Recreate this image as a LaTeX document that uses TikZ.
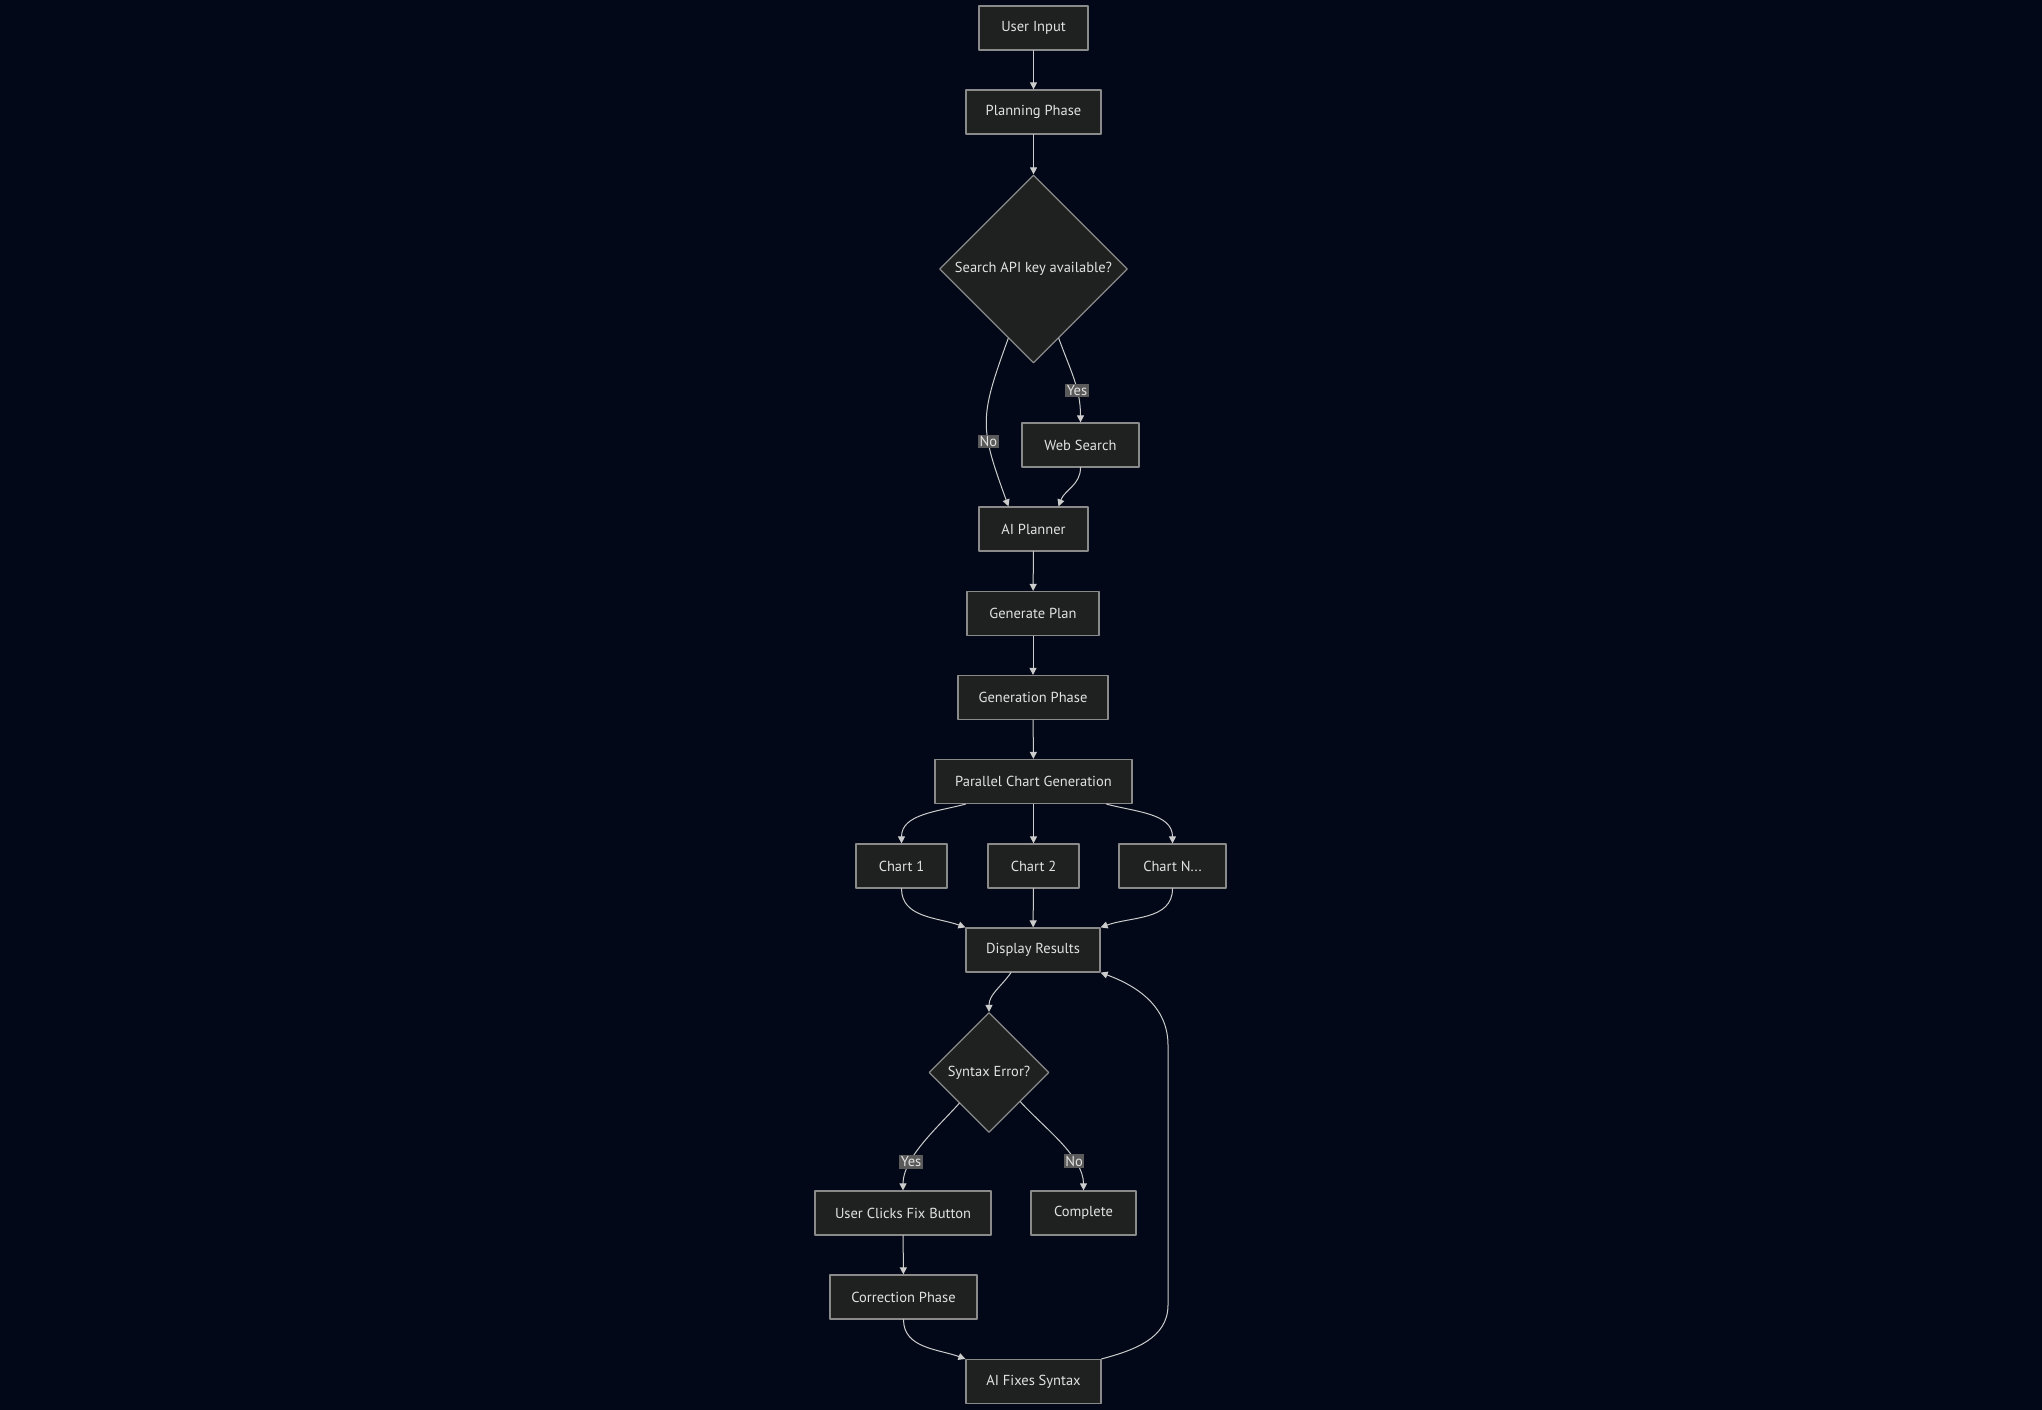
\documentclass[tikz,border=0pt]{standalone}
\usepackage{fontspec}
\setmainfont{PT Sans}
\usetikzlibrary{shapes.geometric,arrows.meta}
\definecolor{bgc}{HTML}{020817}
\definecolor{nodefill}{HTML}{1F2020}
\definecolor{nodeline}{HTML}{8A8A8A}
\definecolor{edgec}{HTML}{CCCCCC}
\definecolor{lblfill}{HTML}{5A5A5A}
\definecolor{txt}{HTML}{E2E2E2}

\begin{document}
\begin{tikzpicture}[x=1pt,y=1pt,line join=round,line cap=round,
>={Triangle[length=7pt,width=7pt]},
font=\fontsize{14.5}{16}\selectfont,
box/.style={draw=nodeline,fill=nodefill,text=txt,line width=1.2pt,minimum height=44,inner sep=0pt},
dmd/.style={diamond,aspect=1,draw=nodeline,fill=nodefill,text=txt,line width=1.2pt,inner sep=0pt},
lbl/.style={fill=lblfill,text=txt,inner sep=1.5pt},
edge/.style={draw=edgec,line width=1pt,->}]

\fill[bgc] (0,0) rectangle (2042,-1410);
\useasboundingbox (0,0) rectangle (2042,-1410);

\node[box,minimum width=109] (userin) at (1033.5,-28) {User Input};
\node[box,minimum width=135] (planning) at (1033.5,-112) {Planning Phase};
\node[dmd,minimum width=188,minimum height=188] (search) at (1033.5,-269) {Search API key available?};
\node[box,minimum width=117] (websearch) at (1080.5,-445) {Web Search};
\node[box,minimum width=109] (aiplanner) at (1033.5,-529) {AI Planner};
\node[box,minimum width=132] (genplan) at (1033,-613.5) {Generate Plan};
\node[box,minimum width=150] (genphase) at (1033,-697.5) {Generation Phase};
\node[box,minimum width=197] (parallel) at (1033.5,-781.5) {Parallel Chart Generation};
\node[box,minimum width=91] (chart1) at (901.5,-866) {Chart 1};
\node[box,minimum width=91] (chart2) at (1033.5,-866) {Chart 2};
\node[box,minimum width=107] (chartn) at (1172.5,-866) {Chart N...};
\node[box,minimum width=134] (display) at (1033,-950) {Display Results};
\node[dmd,minimum width=120,minimum height=120] (syntax) at (989,-1072.5) {Syntax Error?};
\node[box,minimum width=176] (fixbtn) at (903,-1213) {User Clicks Fix Button};
\node[box,minimum width=105] (complete) at (1083.5,-1213) {Complete};
\node[box,minimum width=147] (correction) at (903.5,-1297) {Correction Phase};
\node[box,minimum width=135] (aifix) at (1033.5,-1381.5) {AI Fixes Syntax};

\coordinate (loopbot) at (1168,-1305);
\coordinate (looptop) at (1168,-1045);

\draw[edge] (userin) -- (planning);
\draw[edge] (planning) -- (search);
\draw[edge] (search.290) to[out=-70,in=90] node[lbl,pos=.64]{Yes} (websearch);
\draw[edge] (search.250) to[out=250,in=110,looseness=1.3] node[lbl,pos=.64]{No} ([xshift=-25pt]aiplanner.north);
\draw[edge] (websearch) to[out=-90,in=70] ([xshift=25pt]aiplanner.north);
\draw[edge] (aiplanner) -- (genplan);
\draw[edge] (genplan) -- (genphase);
\draw[edge] (genphase) -- (parallel);
\draw[edge] ([xshift=-68pt]parallel.south) to[out=195,in=90] (chart1);
\draw[edge] (parallel) -- (chart2);
\draw[edge] ([xshift=73pt]parallel.south) to[out=-15,in=90] (chartn);
\draw[edge] (chart1) to[out=-90,in=160] (display.north west);
\draw[edge] (chart2) -- (display);
\draw[edge] (chartn) to[out=-90,in=20] (display.north east);
\draw[edge] ([xshift=-22pt]display.south) to[out=-125,in=90] (syntax);
\draw[edge] (syntax.226) to[out=-132,in=90,looseness=.8] node[lbl,pos=.7]{Yes} (fixbtn);
\draw[edge] (syntax.-43) to[out=-48,in=90,looseness=.8] node[lbl,pos=.7]{No} (complete);
\draw[edge] (fixbtn) -- (correction);
\draw[edge] (correction) to[out=-90,in=160] (aifix.north west);
\draw[edge] (aifix.north east) to[out=15,in=-90] (loopbot) -- (looptop) to[out=90,in=-20] (display.south east);

\end{tikzpicture}
\end{document}
